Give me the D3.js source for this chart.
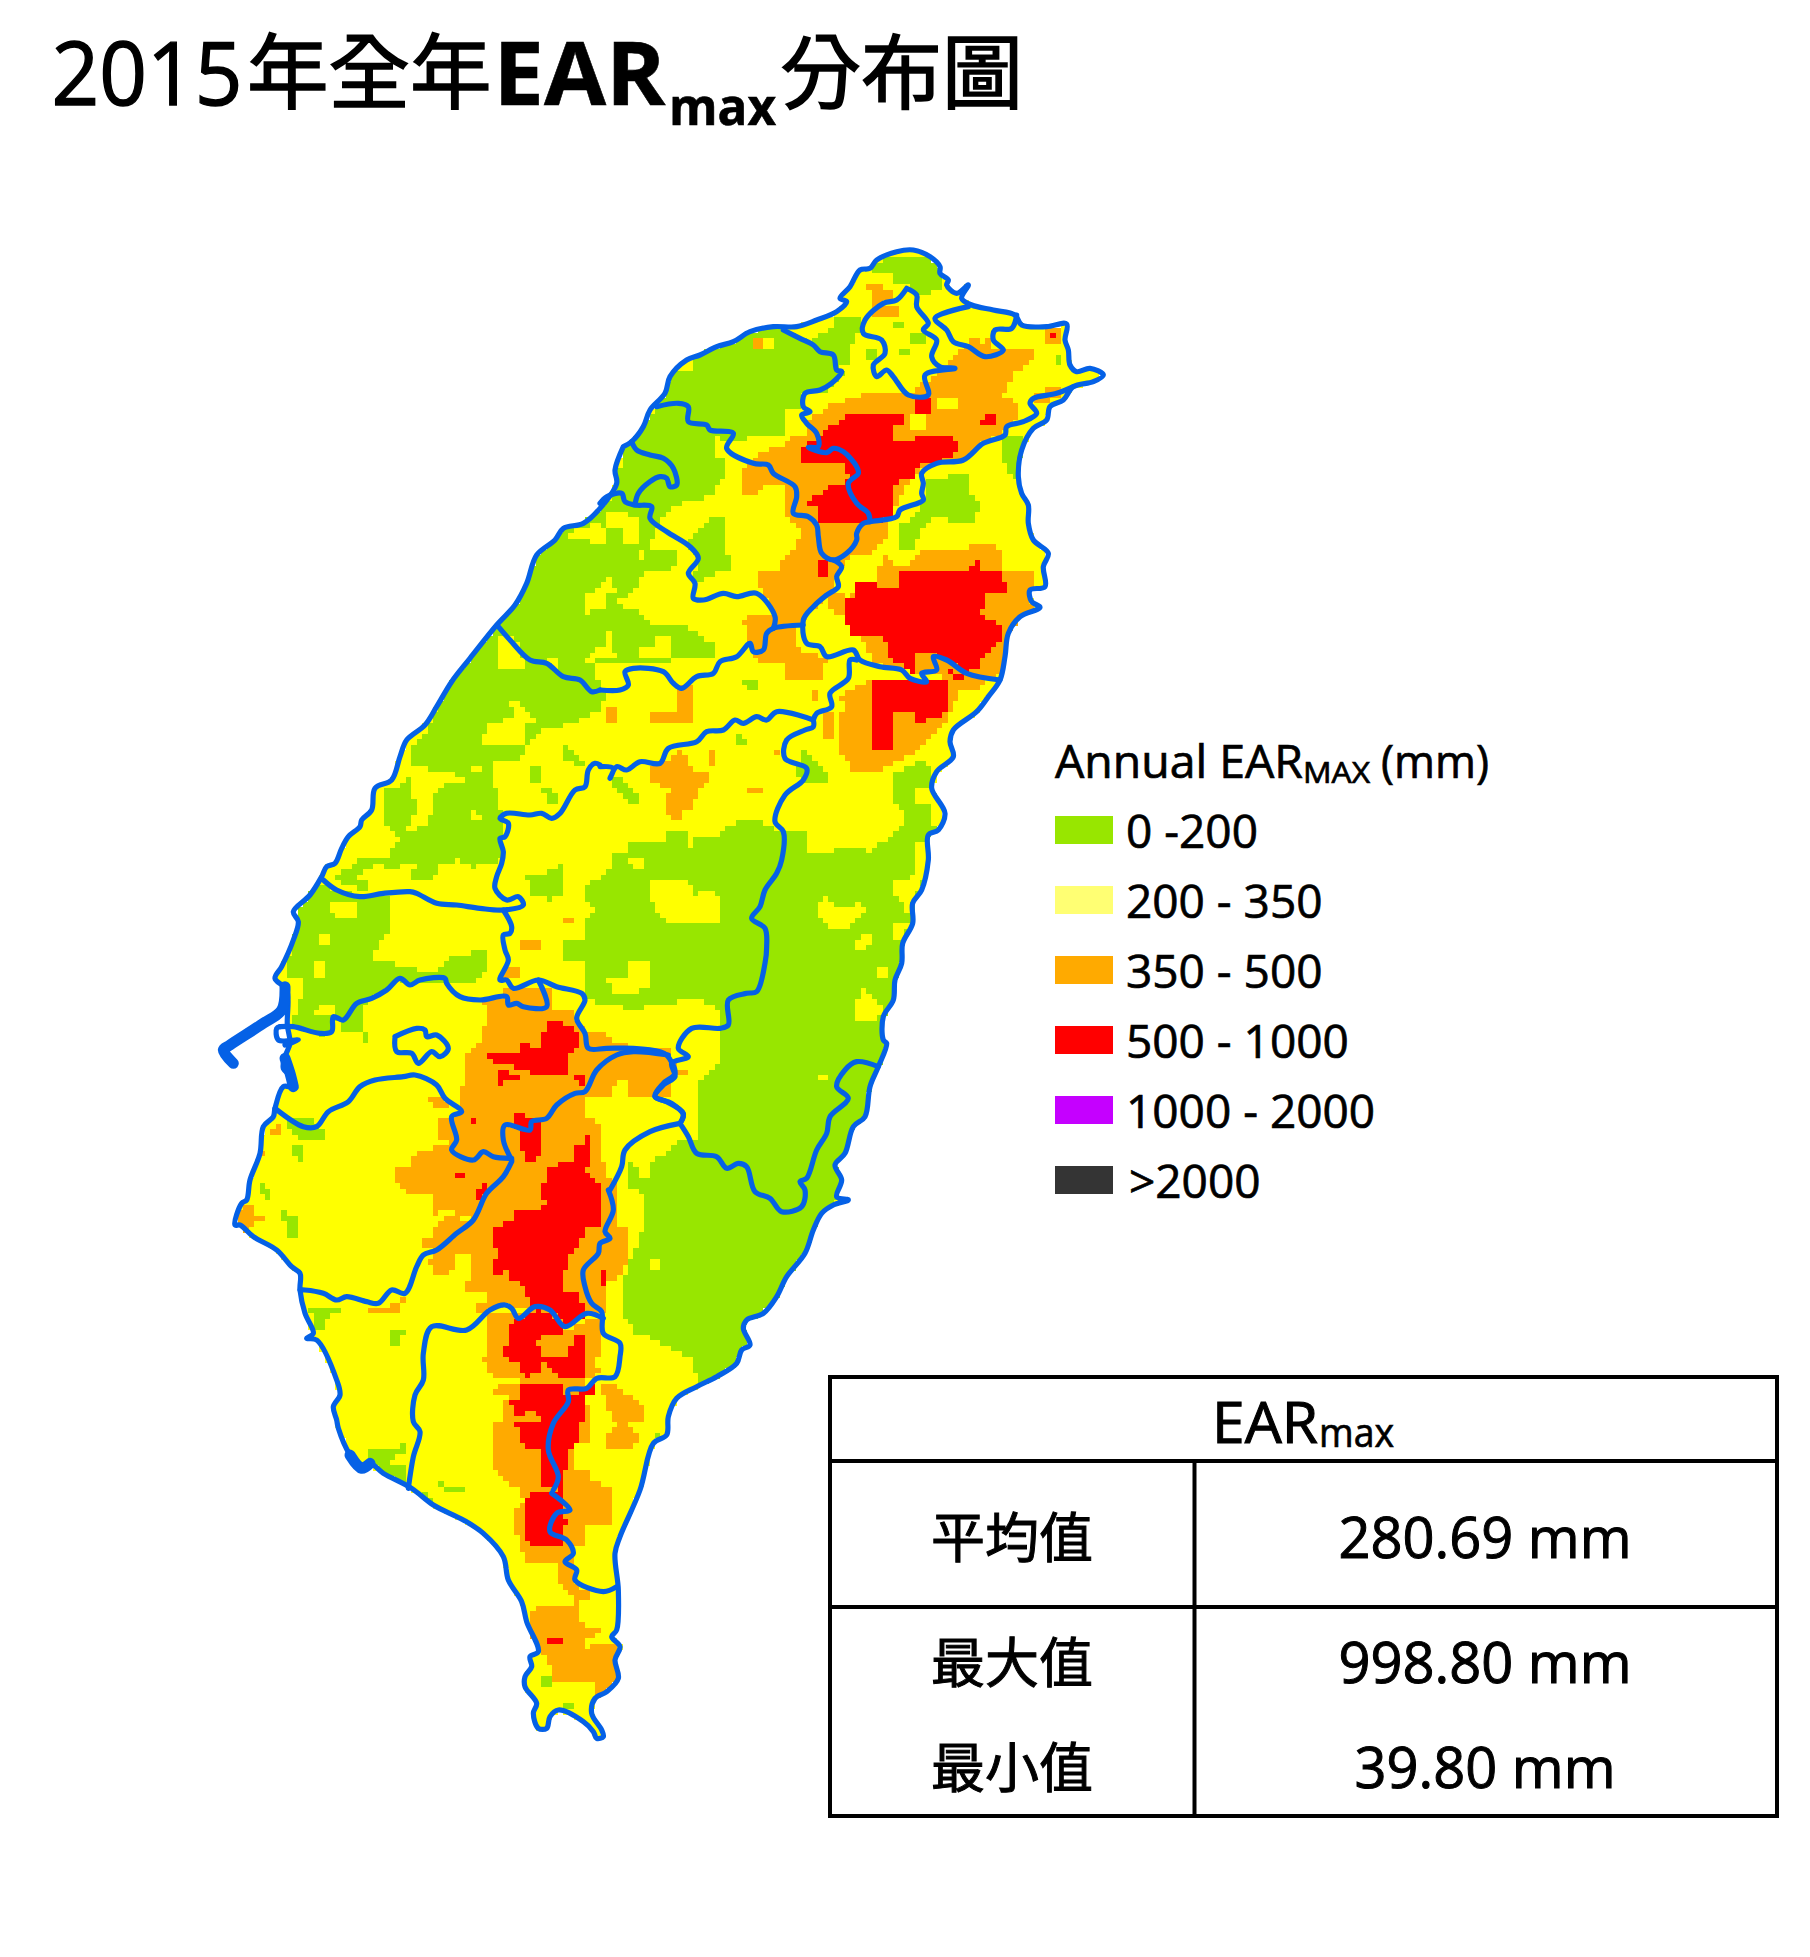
<!DOCTYPE html>
<html>
<head>
<meta charset="utf-8">
<script src="https://cdn.jsdelivr.net/npm/d3@7"></script>
<style>
body { margin: 0; background: #fff; }
text { fill: #000; stroke: #000; stroke-width: 0.7px; font-family: "Open Sans", "Noto Sans CJK TC", sans-serif; }
.cjk { font-family: "Noto Sans CJK TC", sans-serif; }
</style>
</head>
<body>
<svg id="chart" width="1810" height="1957"></svg>
<script>
var N = [0, 0], A = [1200, 0], B = [180, 1260], C = [1200, 1410], D = [30, 2250], F = [300, 3210], G = [660, 660];

function ring(o, s) {
	return s.trim().split(/\s+/).map(function (p) {
		var v = p.split(",");
		return [+v[0] + o[0], +v[1] + o[1]];
	});
}

var classNames = ["0 -200", "200 - 350", "350 - 500", "500 - 1000", "1000 - 2000", ">2000"];
var classColors = ["#98E600", "#FFFF73", "#FFAA00", "#FF0000", "#C500FF", "#343434"];
var rasterColors = { g: "#98E600", y: "#FFFF00", o: "#FFAA00", r: "#FF0000" };

var statNames = ["平均值", "最大值", "最小值"];
var statValues = ["280.69 mm", "998.80 mm", "39.80 mm"];

var coastRing = ring(N, "1270,650 1295,635 1330,590 1350,540 1395,490 1410,440 1460,390 1500,375 1550,350 1600,335 1650,305 1720,290 1790,290 1850,270 1910,245 1940,215 1920,205 1950,170 1980,120 2010,115 2030,90 2090,65 2140,60 2190,80 2220,110 2220,130 2245,150 2240,165 2270,190 2305,165 2285,205 2315,225 2380,240 2445,255 2465,285 2540,290 2600,282 2595,330 2605,360 2610,405 2630,425 2670,415 2710,435 2680,455 2620,470 2590,510 2550,530 2540,570 2500,595 2465,660 2455,740 2465,790 2485,825 2485,880 2500,930 2545,970 2530,1010 2535,1070 2490,1080 2495,1115 2520,1132 2460,1160 2425,1210 2415,1280 2400,1350 2365,1400 2330,1445 2260,1500 2250,1535 2260,1580 2210,1625 2195,1675 2235,1750 2215,1800 2185,1815 2185,1890 2165,1980 2138,2020 2138,2080 2108,2140 2105,2200 2085,2250 2080,2310 2050,2360 2050,2430 2060,2440 2035,2510 2010,2570 1995,2660 1960,2690 1935,2770 1905,2805 1925,2850 1910,2900 1945,2910 1900,2925 1865,2950 1840,3000 1815,3070 1760,3140 1730,3200 1690,3250 1640,3270 1630,3295 1650,3345 1625,3360 1610,3400 1550,3440 1490,3470 1430,3505 1405,3560 1400,3615 1360,3640 1320,3780 1260,3920 1245,3970 1255,4080 1250,4200 1235,4220 1260,4250 1245,4290 1255,4345 1220,4385 1185,4405 1175,4450 1205,4500 1210,4520 1190,4525 1180,4505 1150,4475 1075,4440 1050,4460 1040,4495 1015,4495 1000,4450 1010,4420 975,4370 975,4340 995,4310 990,4280 1015,4265 980,4175 965,4115 925,4050 910,3980 850,3910 790,3870 700,3825 635,3775 550,3730 510,3700 485,3715 450,3675 415,3595 410,3570 400,3530 420,3495 410,3450 350,3330 320,3325 340,3310 315,3250 300,3180 300,3130 275,3110 230,3060 160,3020 120,2985 105,2985 125,2920 140,2910 150,2850 180,2770 190,2690 220,2660 225,2635 250,2570 280,2570 275,2540 250,2515 255,2480 270,2440 262,2385 260,2280 225,2245 245,2210 280,2130 295,2075 280,2045 330,1995 365,1940 380,1910 405,1900 425,1855 445,1820 480,1790 485,1770 515,1740 525,1675 575,1650 600,1580 620,1530 675,1485 710,1430 755,1355 810,1285 890,1185 945,1125 980,1060 1010,975 1065,930 1090,895 1150,880 1200,835 1250,760 1245,720 1270,650");

var greenRings = [
	ring(N, "1420,410 1500,370 1650,300 1750,300 1840,345 1920,400 1930,430 1890,480 1800,490 1800,540 1750,530 1750,620 1650,625 1620,640 1540,620 1540,680 1570,690 1570,740 1530,800 1420,825 1400,850 1300,815 1250,790 1250,760 1270,650 1330,590 1390,490"),
	ring(N, "1300,815 1400,850 1380,880 1340,950 1440,955 1420,1020 1340,1020 1300,1090 1240,1120 1325,1150 1360,1185 1450,1185 1490,1205 1550,1250 1550,1280 1420,1280 1410,1300 1190,1300 1190,1350 1225,1390 1195,1440 1130,1480 1030,1500 980,1550 960,1595 880,1595 870,1620 790,1610 750,1570 680,1495 755,1355 810,1285 890,1185 945,1125 980,1060 1010,975 1065,930 1090,895 1150,880 1200,835 1250,790"),
	ring(A, "810,130 820,100 890,75 1000,85 1020,120 1025,170 995,185 965,195 925,170 880,165 880,135"),
	ring(A, "700,260 750,260 780,265 780,295 760,340 745,400 710,400 640,345 640,320 690,310"),
	ring(A, "925,315 975,315 975,345 925,345"),
	ring(A, "800,365 830,365 830,395 800,395"),
	ring(A, "880,270 910,280 910,295 880,295"),
	ring(A, "895,365 925,365 925,380 895,380"),
	ring(A, "1375,380 1390,380 1390,410 1375,410"),
	ring(A, "1210,625 1270,625 1255,755 1225,720 1205,690"),
	ring(A, "980,755 1040,740 1105,725 1110,790 1140,825 1125,870 1105,885 1060,885 1025,855 995,870 960,905 945,965 910,965 895,930 895,890 960,840 975,800"),
	ring(A, "270,920 320,870 400,855 370,880 370,965 400,990 400,1020 370,1020 310,1050 280,1050 295,985 270,950"),
	ring(A, "420,1350 465,1350 480,1390 440,1375"),
	ring(C, "405,85 450,130 405,130"),
	ring(C, "615,150 680,210 680,250 615,250 585,220"),
	ring(C, "25,235 90,280 120,310 90,310 40,265"),
	// eastern half, ridge to coast
	ring(N, "1160,1960 1200,1940 1240,1910 1240,1875 1290,1870 1290,1830 1390,1835 1405,1810 1455,1805 1470,1855 1490,1820 1550,1815 1620,1775 1680,1775 1720,1795 1815,1810 1815,1870 1890,1870 1900,1855 1980,1855 2010,1870 2030,1840 2080,1820 2110,1790 2110,1745 2080,1705 2080,1635 2160,1595 2195,1615 2190,1675 2145,1675 2145,1720 2190,1730 2200,1760 2200,1790 2215,1800 2185,1815 2185,1890 2165,1980 2138,2020 2138,2080 2108,2140 2105,2200 2085,2250 2080,2310 2050,2360 2050,2430 2060,2440 2035,2510 2010,2570 1995,2660 1960,2690 1935,2770 1905,2805 1925,2850 1910,2900 1900,2925 1865,2950 1840,3000 1815,3070 1760,3140 1730,3200 1690,3250 1640,3270 1630,3295 1650,3345 1625,3360 1610,3400 1550,3440 1490,3470 1485,3400 1455,3375 1390,3345 1370,3330 1305,3310 1305,3285 1260,3250 1260,3180 1305,3060 1340,2970 1340,2890 1290,2875 1290,2795 1305,2805 1325,2840 1340,2840 1355,2820 1355,2795 1390,2775 1440,2725 1490,2730 1490,2580 1520,2530 1555,2495 1555,2335 1470,2300 1440,2300 1420,2320 1340,2330 1340,2345 1275,2345 1275,2330 1160,2310 1160,2185 1095,2200 1080,2160 1095,2135 1160,2135 1160,2070 1190,2040 1145,1995"),
	// west, Miaoli and Yunlin side
	ring(B, "455,285 500,250 555,260 580,320 605,350 695,370 720,470 735,600 710,640 640,650 590,630 535,645 520,695 450,695 470,630 405,660 350,640 285,680 320,700 320,725 220,690 290,630 390,630 390,600 420,560 370,510 370,420 440,400 455,350"),
	ring(B, "110,725 185,700 230,720 300,740 385,745 385,855 355,880 340,935 435,945 515,975 585,910 635,910 685,895 685,950 650,990 615,1005 550,1000 480,990 450,1005 420,985 335,1045 310,1075 320,1185 305,1185 300,1150 240,1150 245,1110 220,1100 215,1145 180,1155 100,1130 105,1090 90,990 75,980 100,870 115,815 95,785"),
	ring(B, "800,680 880,660 910,630 915,725 880,745 880,775 860,745 820,745 815,700"),
	ring(B, "815,350 845,350 845,395 815,395"),
	ring(B, "850,420 880,420 895,465 865,465"),
	ring(B, "915,285 960,320 975,350 915,335"),
	ring(B, "1045,385 1075,385 1140,445 1140,465 1110,465 1060,415"),
	ring(D, "210,690 260,710 260,770 225,770 225,720 210,715"),
	ring(D, "540,1050 605,1050 570,1065 570,1100 540,1100"),
	ring(D, "300,985 390,985 390,1000 355,1000 340,1050 320,1050"),
	ring(D, "470,1415 585,1395 585,1415 540,1445 590,1460 595,1525 520,1490"),
	ring(D, "225,410 290,410 340,450 340,475 275,475 225,440"),
	ring(D, "145,610 175,625 175,655 160,655"),
	ring(D, "245,490 275,495 275,540 245,520"),
	ring(F, "720,1130 760,1130 760,1155 725,1155"),
	ring(F, "790,1205 840,1225 780,1235"),
	ring(F, "415,550 495,565 495,580 430,570 455,595"),
	ring(F, "350,565 395,590 395,605 370,605"),
	ring(F, "1055,390 1085,405 1060,420")
];

var yellowRings = [
	ring(A, "450,330 515,330 515,360 450,360"),
	ring(A, "220,400 285,395 285,425 240,425"),
	ring(N, "1110,930 1110,905 1190,880 1220,890 1225,850 1260,840 1320,870 1325,950 1275,950 1275,890 1225,890 1225,930 1210,950 1175,950 1175,935"),
	ring(N, "1320,955 1340,955 1340,985 1320,985"),
	ring(N, "1160,1085 1190,1080 1225,1040 1240,1040 1240,1070 1255,1085 1225,1090 1225,1135 1175,1135 1175,1150 1160,1150"),
	ring(N, "1225,1200 1240,1200 1240,1255 1255,1280 1160,1295 1160,1280 1190,1270 1190,1250 1225,1250"),
	ring(N, "895,1215 930,1220 975,1250 945,1265 975,1280 980,1315 910,1315 895,1330 895,1285"),
	ring(N, "1045,1280 1075,1280 1075,1315 1045,1300"),
	ring(N, "1320,1250 1370,1250 1370,1220 1410,1220 1420,1280 1320,1280"),
	ring(N, "850,1545 850,1515 865,1480 910,1475 940,1450 930,1415 960,1415 1010,1470 975,1485 980,1540"),
	ring(B, "455,350 555,365 640,385 550,400 520,440 505,520 440,545 470,470 455,430"),
	ring(B, "635,480 665,510 635,510"),
	ring(B, "210,760 290,760 290,795 240,810 210,790"),
	ring(B, "175,860 205,860 205,890 175,890"),
	ring(B, "160,925 190,940 190,990 160,975"),
	ring(B, "80,990 125,990 125,1040 110,1090 90,1040"),
	ring(B, "160,1075 220,1060 220,1090 190,1100 160,1090"),
	ring(C, "155,545 255,545 270,560 285,545 285,590 305,575 335,575 355,595 355,660 335,675 220,675 190,655 155,610"),
	ring(C, "650,610 680,595 715,625 780,610 795,630 730,690 695,690 650,640"),
	ring(C, "765,725 795,695 810,695 810,740 780,755"),
	ring(C, "880,675 925,675 905,725 880,725"),
	ring(C, "830,790 860,810 860,825 830,825"),
	ring(C, "765,905 800,855 810,885 850,920 845,950 810,970 780,970 765,935"),
	ring(C, "25,840 90,825 90,790 155,790 155,855 105,875 40,885"),
	ring(C, "90,480 140,480 140,510 105,510"),
	ring(C, "950,430 985,430 985,520 940,600 910,660 910,600 880,590 880,545 945,525"),
	ring(C, "650,1120 680,1120 680,1135 650,1135"),
	ring(N, "1355,3087 1388,3087 1388,3120 1355,3120")
];

var orangeRings = [
	ring(A, "795,170 845,165 875,185 875,205 850,220 890,235 890,260 830,260 800,270 815,240 815,185"),
	ring(A, "470,680 485,660 550,655 565,625 620,610 630,560 665,545 695,525 745,510 810,480 940,480 1000,440 1075,370 1095,355 1145,345 1170,320 1160,360 1240,365 1305,365 1305,390 1270,410 1235,430 1220,480 1205,505 1255,515 1255,560 1215,600 1150,640 1090,690 1010,700 950,730 900,800 880,860 860,880 860,920 810,970 730,990 730,1000 700,1070 690,1100 620,1150 600,1180 580,1195 585,1250 610,1265 680,1285 665,1345 600,1350 560,1345 550,1300 470,1295 450,1260 430,1180 450,1150 520,1150 470,1050 485,1020 530,1020 580,950 615,910 580,870 550,865 550,770 500,755 480,790 420,790 435,700"),
	ring(A, "1300,490 1370,465 1390,490 1340,525 1305,525"),
	ring(A, "1340,300 1380,300 1380,345 1340,345"),
	ring(A, "1090,335 1140,330 1170,350 1150,375 1085,360"),
	ring(A, "465,330 485,330 485,360 465,360"),
	ring(A, "745,1110 765,1070 780,1055 830,1050 850,970 895,1020 980,955 1090,955 1140,940 1170,940 1205,970 1205,1020 1305,1020 1305,1070 1280,1080 1295,1115 1310,1130 1260,1160 1225,1210 1215,1280 1195,1345 1060,1345 965,1330 850,1310 810,1290 800,1235 745,1215 730,1100"),
	ring(A, "685,1095 730,1095 730,1165 685,1130"),
	ring(A, "640,1380 660,1380 660,1410 630,1410"),
	ring(A, "225,1365 285,1365 285,1440 270,1475 155,1475 155,1445 190,1445 190,1460 225,1440"),
	ring(A, "25,1430 55,1430 55,1475 25,1475"),
	ring(A, "730,1390 810,1350 1175,1345 1150,1370 1075,1390 1060,1420 715,1420 715,1400"),
	ring(C, "730,0 715,100 715,165 745,185 745,215 845,215 880,185 945,165 980,120 1010,100 1060,30 1060,0"),
	ring(C, "665,30 695,30 695,115 665,115"),
	ring(C, "520,150 545,150 545,180 520,170"),
	ring(C, "320,165 350,150 350,200 320,200"),
	ring(C, "130,200 190,185 240,155 285,215 320,220 320,245 290,265 285,315 255,335 240,360 220,360 190,320 205,285 220,265 190,265 155,240 155,215"),
	ring(C, "435,265 485,265 485,280 435,280"),
	ring(B, "780,875 845,875 845,905 785,905"),
	ring(B, "915,810 945,810 945,825 915,825"),
	ring(B, "720,970 745,945 780,945 780,985 745,990"),
	ring(B, "730,1010 780,1030 780,1050 735,1040"),
	ring(D, "800,70 870,55 880,30 1030,30 1030,85 1095,90 1100,130 1135,150 1180,150 1225,190 1310,210 1375,210 1390,225 1405,265 1440,265 1440,280 1390,290 1390,345 1260,345 1260,295 1230,295 1195,345 1130,345 1130,410 1180,430 1180,540 1195,590 1225,625 1225,735 1260,740 1260,830 1240,870 1210,905 1190,905 1190,1000 1130,1000 1065,1040 965,980 885,975 835,990 805,1000 805,975 835,970 835,935 770,930 755,905 785,900 785,820 735,820 735,850 720,885 670,885 670,850 650,845 680,805 635,805 635,775 670,770 670,740 720,705 750,705 720,690 705,690 670,705 670,655 650,640 590,640 555,600 555,560 605,555 605,525 640,510 725,490 720,475 690,475 690,410 725,410 755,395 750,310 770,310 770,215 820,180 820,150 835,130 835,80"),
	ring(D, "80,700 125,670 125,705 160,705 160,720 125,740 95,770 80,740"),
	ring(D, "180,450 210,430 205,460 175,475"),
	ring(D, "160,490 175,525 155,525"),
	ring(D, "655,345 690,350 725,385 670,380"),
	ring(D, "470,985 570,970 570,1000 470,1000"),
	ring(D, "570,950 590,950 590,970 570,970"),
	ring(F, "565,60 565,150 545,175 580,230 660,240 660,255 580,260 580,285 630,290 610,315 615,370 580,370 580,500 595,530 650,565 680,600 645,630 645,700 665,700 665,745 680,780 775,780 780,860 800,860 825,800 820,735 860,730 860,680 925,680 940,615 940,570 890,550 850,505 825,520 810,495 825,470 825,430 860,430 875,370 860,300 860,240 880,240 905,210 880,200 875,180 905,170 905,120 905,70 880,50 800,90 760,40 700,30 660,50 640,40 570,45"),
	ring(F, "890,245 950,255 990,290 1040,325 1040,365 975,375 1020,400 1020,430 970,450 890,450 925,430 925,395 955,375 925,335 925,300"),
	ring(F, "715,910 745,910 760,925 780,910 825,910 825,885 875,880 875,895 840,895 840,960 860,975 905,980 905,1005 860,1010 860,1040 940,1025 955,1040 945,1140 890,1190 875,1140 760,1140 745,1075 725,1055 690,1010 695,950"),
	ring(F, "775,780 825,780 825,790 810,800 835,860 875,880 830,895 780,860")
];

var yellowOverRings = [
	ring(A, "1010,495 1075,510 1075,540 1025,545 1010,520"),
	ring(A, "930,560 975,560 975,605 925,605"),
	ring(D, "755,705 785,705 770,725 750,725")
];

var redRings = [
	ring(A, "615,645 655,630 680,595 715,575 745,545 910,545 910,575 880,595 880,640 945,640 945,625 1060,625 1075,650 1075,670 1010,695 960,705 945,740 880,760 880,860 780,885 660,885 645,825 615,825 680,775 730,755 745,740 730,700 665,690 665,705 615,705 600,680"),
	ring(A, "945,510 990,510 990,560 945,560"),
	ring(A, "1140,480 1190,480 1190,495 1140,495"),
	ring(A, "1155,560 1190,560 1190,590 1140,590 1140,575"),
	ring(A, "1355,315 1370,315 1370,330 1355,330"),
	ring(A, "650,985 680,985 680,1035 650,1035"),
	ring(A, "730,1100 760,1100 765,1070 780,1055 830,1050 830,1070 895,1070 895,1020 1110,1020 1110,1005 1125,1005 1125,990 1140,990 1140,1020 1205,1020 1205,1055 1220,1055 1220,1085 1155,1085 1155,1135 1140,1135 1155,1155 1190,1185 1205,1200 1205,1235 1170,1260 1140,1290 1140,1300 1125,1320 1100,1330 1040,1290 1010,1280 995,1265 960,1265 945,1280 945,1330 865,1285 860,1235 830,1215 745,1215"),
	ring(A, "1040,1315 1105,1345 1075,1345 1040,1330"),
	ring(A, "815,1350 1040,1350 1040,1440 1025,1460 945,1480 945,1445 880,1445 880,1560 815,1560"),
	ring(D, "1015,560 1090,540 1080,510 1130,490 1130,460 1145,460 1145,525 1130,575 1165,605 1180,620 1180,735 1130,740 1130,770 1115,770 1115,800 1080,820 1080,870 1060,875 1060,935 1110,935 1115,970 1130,1000 1065,1040 1020,990 965,980 945,935 930,905 900,900 885,870 865,885 850,885 850,835 865,835 865,805 850,800 850,740 885,740 885,720 915,720 915,705 930,690 995,690 1015,655 1000,655 1000,610 1015,605"),
	ring(D, "835,230 850,215 930,215 930,180 965,180 965,200 1000,195 1000,150 1015,130 1050,130 1050,115 1065,115 1065,130 1095,145 1100,165 1120,190 1080,215 1080,280 965,280 965,265 900,260 850,260 850,245"),
	ring(D, "865,265 900,265 900,280 930,280 930,295 900,295 885,310 885,325 865,325"),
	ring(D, "1080,280 1130,280 1130,310 1100,310"),
	ring(D, "915,395 950,395 950,410 1000,410 965,450 995,430 995,525 980,525 980,540 950,540 935,510 935,450 915,440"),
	ring(D, "800,625 830,605 835,620 815,655 800,655"),
	ring(D, "735,575 765,575 765,590 735,590"),
	ring(D, "785,410 800,410 800,425 785,425"),
	ring(D, "1180,870 1195,870 1195,920 1180,920"),
	ring(D, "900,1035 965,1000 985,990 1020,1000 1065,1050 1060,1065 1000,1065 1000,1085 980,1085 980,1100 995,1100 995,1130 1030,1130 1130,1135 1130,1200 1060,1195 1030,1180 1000,1145 995,1180 965,1180 965,1195 950,1195 930,1180 930,1150 885,1130 885,1100 900,1090"),
	ring(D, "1095,1065 1130,1065 1130,1120 1095,1130 1080,1130 1080,1100 1095,1100"),
	ring(D, "930,1215 1060,1215 1065,1245 1130,1230 1145,1200 1160,1215 1160,1245 1130,1250 1130,1330 1115,1330 1115,1380 1080,1400 1080,1475 1060,1480 1060,1510 1045,1525 1030,1500 1000,1410 950,1410 935,1395 935,1360 915,1345 915,1330 1000,1330 1000,1315 965,1295 915,1310 915,1280 900,1265 930,1250"),
	ring(F, "725,450 810,435 810,510 790,520 790,570 730,560"),
	ring(F, "695,570 760,570 790,580 790,650 805,650 790,680 790,710 775,745 695,745 665,700 680,700 680,600"),
	ring(F, "745,1010 790,1010 790,1025 745,1025")
];

var basinLines = [
	ring(A, "550,300 600,325 640,345 660,365 700,375 710,420 725,425 695,460 660,480 615,490 610,530 630,545 605,555 620,580 650,610 655,650 625,652 680,668 700,655 730,665 770,710 775,730 745,760 770,820 805,850 810,875"),
	ring(A, "1420,470 1370,490 1300,505 1290,520 1310,550 1270,575 1220,590 1215,615 1150,640 1090,690 1010,700 965,730 970,760 965,790 970,810 900,840 890,860 810,875 790,880 770,910 770,930 740,970 700,990 665,970 655,920 650,885 625,860 580,850 590,800 585,770 520,730 505,705 460,700 380,655 400,610 330,600 320,585 265,575 265,530 235,520 170,530"),
	ring(A, "700,990 725,1010 710,1040 715,1070 680,1095 640,1130 610,1170 620,1240 660,1250 680,1280 760,1260 780,1290 840,1310 905,1320 930,1345 980,1355 965,1330 1010,1320 1000,1280 1040,1290 1100,1330 1200,1350"),
	ring(A, "610,1185 520,1195 500,1210 490,1260 460,1265 450,1240 410,1280 360,1295 340,1330 290,1340 245,1375 220,1360 190,1325 100,1315 75,1325 85,1365 60,1380 0,1380"),
	ring(G, "540,720 515,725 480,690 430,680 380,640 330,630 270,570 235,530"),
	ring(A, "520,1195 525,1160 470,1090 410,1100 370,1090 310,1110 280,1105 285,1060 265,1030 295,985 270,950 200,905 150,865 155,830 105,825 75,815 65,790 20,800 0,820"),
	ring(A, "95,635 110,660 150,675 190,685 220,715 230,765 210,770 200,745 180,740 150,755 115,790 105,825"),
	ring(A, "920,175 950,195 950,230 985,280 970,300 1010,330 995,380 1020,410 1065,415 975,435 985,495 925,495 880,440 860,420 830,440 820,405 855,370 845,330 790,310 795,270 850,220 890,210 920,175"),
	ring(A, "1105,230 1005,265 1040,300 1060,335 1105,350 1155,380 1210,360 1180,330 1185,300 1235,295 1250,255"),
	ring(A, "770,1290 750,1290 745,1345 690,1390 695,1430 650,1450 640,1470"),
	ring(C, "640,60 640,80 615,90 560,120 555,175 620,205 610,240 555,285 525,365 550,395 545,480 530,520 495,570 480,620 455,655 495,685 500,740 495,790 470,875 440,880 385,900 385,975 360,985 275,985 235,1045 265,1070 215,1090 225,1130 190,1155 165,1190 200,1205 250,1240 240,1270"),
	ring(C, "640,60 530,35 500,60 470,50 430,70 405,60 370,90 320,95 290,125 205,145 180,190 120,185 80,210 50,200 30,235 40,205 0,200"),
	ring(B, "1020,345 1005,340 985,360 975,410 945,420 900,490 875,505 845,490 810,495 740,490 720,505 745,520 735,560 720,565 730,605 725,640 710,680 705,715 740,750 775,740 790,765 730,780 660,775 590,765 530,760 470,730 450,725 370,730 300,740 230,720 190,690"),
	ring(B, "730,780 755,830 750,850 730,855 735,900 745,930 720,990 740,990 760,1015 835,990 890,1010 965,1030 975,1050 950,1105 975,1150 985,1195 1040,1195 1120,1195 1200,1205 1220,1215 1245,1270 1210,1300 1185,1340 1235,1360 1270,1395 1260,1420"),
	ring(B, "835,990 860,1070 790,1070 770,1060 745,1065 740,1040 660,1050 600,1040 560,1000 555,985 480,990 450,1005 420,985 380,1020 335,1045 290,1060 250,1110 220,1100 215,1145 180,1150 100,1130 60,1130"),
	ring(B, "60,1130 50,1135 55,1170 115,1170 75,1185"),
	ring(B, "405,1160 470,1135 495,1140 500,1160 530,1155 565,1195 540,1220 515,1205 475,1240 455,1210 410,1205 405,1160"),
	ring(B, "1225,1215 1120,1205 1070,1215 1010,1260 975,1325 945,1330 890,1365 860,1405 815,1415 810,1440 735,1425 730,1470 755,1530"),
	ring(D, "905,545 880,590 830,640 790,720 740,760 680,810 640,825 620,860 585,940 545,930 505,970 470,965 410,950 380,960 340,940 285,930 270,930"),
	ring(B, "755,1525 700,1520 670,1505 640,1530 575,1500 590,1470 575,1400 605,1385 555,1345 530,1305 465,1275 430,1280 345,1290 300,1310 265,1355 205,1385 170,1430 130,1430 45,1375"),
	ring(C, "240,1270 150,1295 75,1350 65,1400 30,1470"),
	ring(D, "1195,630 1210,690 1185,755 1200,775 1170,790 1165,820 1120,870 1125,920 1145,970 1175,995 1180,1060 1230,1090 1230,1130 1215,1190 1160,1195 1130,1225 1075,1230 1075,1265 1030,1330 1015,1410 1045,1490 1030,1530"),
	ring(F, "755,580 810,630 770,640 750,695 800,720 820,760 795,785 830,810 825,840 910,875 950,860"),
	ring(D, "1180,1015 1130,1000 1065,1040 1020,990 975,980 925,1015 905,985 885,975 840,990 770,1050 665,1040 640,1120 640,1200 615,1245 610,1325 630,1355 610,1430 595,1525"),
	ring(C, "835,1100 770,1085 735,1110 710,1160 745,1195 690,1250 680,1300 650,1350 620,1435 600,1445 615,1470 605,1520 545,1535 510,1495 465,1475 440,1400 415,1390 380,1405 350,1370 290,1360 265,1310 240,1270")
];

// estuaries and sand spits, where the outline runs into a solid blob
var heavyLines = [
	ring(D, "225,20 215,90 160,130 60,195 40,210 70,250"),
	ring(D, "225,235 240,280 250,320"),
	ring(F, "150,465 185,505 210,490")
];

var svg = d3.select("#chart");
var x = d3.scaleLinear().domain([0, 3000]).range([200, 1200]);
var y = d3.scaleLinear().domain([0, 4800]).range([230, 1830]);
var cell = 16.25;

function layer(rings, key) {
	return rings.map(function (r) {
		var xs = r.map(function (p) { return p[0]; }), ys = r.map(function (p) { return p[1]; });
		return { key: key, ring: r, x0: d3.min(xs), x1: d3.max(xs), y0: d3.min(ys), y1: d3.max(ys) };
	});
}

// painted in order, the last ring that holds a cell gives its class
var layers = [].concat(
	layer(redRings, "r"),
	layer(yellowOverRings, "y"),
	layer(orangeRings, "o"),
	layer(yellowRings, "y"),
	layer(greenRings, "g")
);

function classOf(px, py) {
	if (!d3.polygonContains(coastRing, [px, py])) return null;
	for (var i = 0; i < layers.length; i++) {
		var l = layers[i];
		if (px < l.x0 || px > l.x1 || py < l.y0 || py > l.y1) continue;
		if (d3.polygonContains(l.ring, [px, py])) return l.key;
	}
	return "y";
}

// runs of equal cells, one rect per run
var runs = [];
d3.range(0, 4600, cell).forEach(function (py) {
	var cur = null;
	d3.range(0, 2800, cell).forEach(function (px) {
		var k = classOf(px + cell / 2, py + cell / 2);
		if (cur && cur.k === k) { cur.x1 = px + cell; return; }
		if (cur && cur.k) runs.push(cur);
		cur = { k: k, x0: px, x1: px + cell, y0: py };
	});
	if (cur && cur.k) runs.push(cur);
});

svg.append("g")
	.attr("shape-rendering", "crispEdges")
	.selectAll("rect")
	.data(runs)
	.enter()
	.append("rect")
	.attr("x", function (d) { return x(d.x0); })
	.attr("y", function (d) { return y(d.y0); })
	.attr("width", function (d) { return x(d.x1) - x(d.x0); })
	.attr("height", function (d) { return y(d.y0 + cell) - y(d.y0) + 0.5; })
	.attr("fill", function (d) { return rasterColors[d.k]; });

var line = d3.line()
	.x(function (d) { return x(d[0]); })
	.y(function (d) { return y(d[1]); })
	.curve(d3.curveCatmullRom.alpha(0.5));

var outlines = svg.append("g")
	.attr("fill", "none")
	.attr("stroke", "#0561E6")
	.attr("stroke-linejoin", "round")
	.attr("stroke-linecap", "round");

outlines.selectAll("path.thin")
	.data([coastRing].concat(basinLines))
	.enter()
	.append("path")
	.attr("class", "thin")
	.attr("stroke-width", 5.2)
	.attr("d", line);

outlines.selectAll("path.heavy")
	.data(heavyLines)
	.enter()
	.append("path")
	.attr("class", "heavy")
	.attr("stroke-width", 11)
	.attr("d", line);

function label(px, py, str, size, opts) {
	opts = opts || {};
	var t = svg.append("text").attr("x", px).attr("y", py).attr("font-size", size).text(str);
	if (opts.cjk) t.attr("class", "cjk");
	if (opts.bold) t.attr("font-weight", "bold");
	if (opts.anchor) t.attr("text-anchor", opts.anchor);
	if (opts.len) t.attr("textLength", opts.len).attr("lengthAdjust", "spacingAndGlyphs");
	if (opts.heavy) t.style("stroke-width", opts.heavy + "px");
	return t;
}

// title
label(51.5, 105, "2015", 88, { len: 191, heavy: 1.4 });
label(247, 102, "年全年", 81.5, { cjk: true, heavy: 1.6 });
label(493.5, 105, "EAR", 87, { bold: true, len: 172, heavy: 0.6 });
label(669, 125, "max", 52, { bold: true, len: 107, heavy: 0.6 });
label(780, 102, "分布圖", 81, { cjk: true, heavy: 1.6 });

// legend
label(1055, 778, "Annual EAR", 46, { len: 248 });
label(1303, 783, "MAX", 30, { len: 67 });
label(1381, 778, "(mm)", 46, { len: 108 });

var legendY = d3.scaleBand().domain(classNames).range([816, 1236]).paddingInner(0);
svg.append("g")
	.selectAll("rect")
	.data(classNames)
	.enter()
	.append("rect")
	.attr("x", 1055)
	.attr("y", function (d) { return legendY(d); })
	.attr("width", 58)
	.attr("height", 28)
	.attr("fill", function (d, i) { return classColors[i]; });

classNames.forEach(function (d) {
	label(d[0] === ">" ? 1129 : 1126, legendY(d) + 32, d, 46);
});

// table
var tableLines = [
	[828, 1377, 1779, 1377], [828, 1461, 1779, 1461], [828, 1607, 1779, 1607], [828, 1816, 1779, 1816],
	[830, 1377, 830, 1816], [1777, 1377, 1777, 1816], [1194.5, 1461, 1194.5, 1816]
];
svg.append("g")
	.selectAll("line")
	.data(tableLines)
	.enter()
	.append("line")
	.attr("x1", function (d) { return d[0]; })
	.attr("y1", function (d) { return d[1]; })
	.attr("x2", function (d) { return d[2]; })
	.attr("y2", function (d) { return d[3]; })
	.attr("stroke", "#000")
	.attr("stroke-width", 4);

label(1212, 1443, "EAR", 56, { len: 106, heavy: 1 });
label(1319, 1447, "max", 40, { len: 75 });

var rowBase = [1558, 1683, 1788];
statNames.forEach(function (d, i) {
	label(1012, rowBase[i], d, 54, { cjk: true, anchor: "middle", heavy: 1 });
	label(1485, rowBase[i], statValues[i], 56, { anchor: "middle", heavy: 1 });
});
</script>
</body>
</html>
